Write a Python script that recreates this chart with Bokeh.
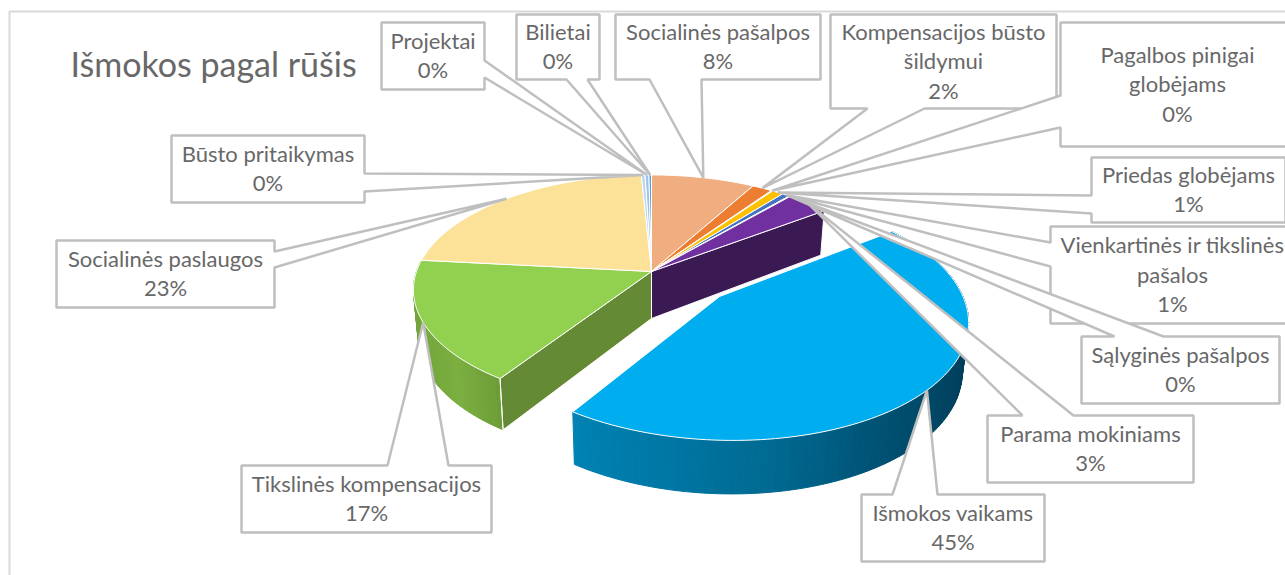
import math
from bokeh.plotting import figure
from bokeh.models import Range1d, ColumnDataSource
from bokeh.core.properties import value
from bokeh.embed import file_html
from bokeh.resources import INLINE

# ---------- data ----------
categories = ["Socialinės pašalpos", "Kompensacijos būsto šildymui", "Pagalbos pinigai globėjams",
              "Priedas globėjams", "Vienkartinės ir tikslinės pašalos", "Sąlyginės pašalpos",
              "Parama mokiniams", "Išmokos vaikams", "Tikslinės kompensacijos",
              "Socialinės paslaugos", "Būsto pritaikymas", "Projektai", "Bilietai"]
shares = [8.2, 1.6, 0.1, 0.9, 0.6, 0.1, 3.4, 44.6, 17.2, 22.6, 0.3, 0.3, 0.2]
title_text = "Išmokos pagal rūšis"

# ---------- styles and layout ----------
fills = ["#F0AE80", "#ED7D31", "#A5A5A5", "#FFC000", "#4472C4", "#70AD47", "#7030A0",
         "#00AEEF", "#92D050", "#FBE298", "#BDD7EE", "#9DC3E6", "#5B9BD5"]
wrapped = {"Kompensacijos būsto šildymui": ["Kompensacijos būsto", "šildymui"],
           "Pagalbos pinigai globėjams": ["Pagalbos pinigai", "globėjams"],
           "Vienkartinės ir tikslinės pašalos": ["Vienkartinės ir tikslinės", "pašalos"]}
# left, top, right, bottom, side of the pointer, two points of its base
callouts = {
    "Socialinės pašalpos": (615, 14, 820, 79, "b", 649, 701),
    "Kompensacijos būsto šildymui": (830, 14, 1056, 108, "b", 867, 924),
    "Pagalbos pinigai globėjams": (1060, 22, 1294, 146, "l", 95, 127),
    "Priedas globėjams": (1091, 157, 1285, 222, "l", 195, 213),
    "Vienkartinės ir tikslinės pašalos": (1050, 226, 1294, 323, "l", 242, 266),
    "Sąlyginės pašalpos": (1081, 336, 1279, 403, "t", 1114, 1163),
    "Parama mokiniams": (987, 415, 1193, 482, "t", 1022, 1073),
    "Išmokos vaikams": (861, 494, 1044, 561, "t", 892, 937),
    "Tikslinės kompensacijos": (241, 465, 491, 532, "t", 387, 448),
    "Socialinės paslaugos": (56, 240, 274, 307, "r", 251, 267),
    "Būsto pritaikymas": (171, 135, 364, 202, "r", 173, 191),
    "Projektai": (381, 22, 484, 89, "r", 60, 77),
    "Bilietai": (516, 14, 599, 79, "b", 566, 587),
}
CX, CY, RX, RY, K = 651.0, 271.0, 235.0, 112.0, 0.16
DEPTH, EXPLODED, OFF_U, OFF_V = 47.0, "Išmokos vaikams", 0.28, 0.215
FONT = "Lato"
TEXT = "#686868"
BORDER = "#BFBFBF"


def top(theta, off=(0.0, 0.0)):
    u, v = math.sin(theta) + off[0], -math.cos(theta) + off[1]
    s = 1.0 / (1.0 - K * v)
    return CX + RX * u * s, CY + RY * v * s, v


def bottom(x, y, v):
    return CX + (x - CX) * 0.98, y + DEPTH / (1.0 - 0.1 * v)


def mix(a, b, t):
    ca = [int(a[i:i + 2], 16) for i in (1, 3, 5)]
    cb = [int(b[i:i + 2], 16) for i in (1, 3, 5)]
    return "#%02x%02x%02x" % tuple(round(p + (q - p) * t) for p, q in zip(ca, cb))


def arc(a0, a1, off):
    n = max(2, int((a1 - a0) / math.radians(1.5)))
    return [top(a0 + (a1 - a0) * i / n, off) for i in range(n + 1)]


total = sum(shares)
angles = {}
cum = 0.0
for c, s_ in zip(categories, shares):
    angles[c] = (cum / total * 2 * math.pi, (cum + s_) / total * 2 * math.pi)
    cum += s_

p = figure(width=1285, height=575, x_range=Range1d(0, 1285), y_range=Range1d(575, 0),
           output_backend="svg", toolbar_location=None, min_border=0,
           background_fill_color="white", border_fill_color="white", outline_line_color=None)
p.axis.visible = False
p.grid.visible = False

# chart frame
p.patch([9, 1300, 1300, 9], [11, 11, 600, 600], fill_color="white",
        line_color="#D9D9D9", line_width=2)


def side_wall(edge_angle, color):
    c = (CX, CY, 0.0)
    e = top(edge_angle)
    bc = bottom(*c)
    be = bottom(*e)
    p.patch([c[0], e[0], be[0], bc[0]], [c[1], e[1], be[1], bc[1]],
            fill_color=color, line_color="white", line_width=1)


def rim(a0, a1, off, stops):
    pts = arc(a0, a1, off)
    xs, ys, cols = [], [], []
    xmin, xmax = min(q[0] for q in pts), max(q[0] for q in pts)
    for q0, q1 in zip(pts[:-1], pts[1:]):
        b0, b1 = bottom(*q0), bottom(*q1)
        xs.append([q0[0], q1[0], b1[0], b0[0]])
        ys.append([q0[1], q1[1], b1[1], b0[1]])
        t = ((q0[0] + q1[0]) / 2 - xmin) / (xmax - xmin)
        if t < 0.5:
            cols.append(mix(stops[0], stops[1], t * 2))
        else:
            cols.append(mix(stops[1], stops[2], t * 2 - 1))
    p.patches(xs="x", ys="y", source=ColumnDataSource(dict(x=xs, y=ys, c=cols)),
              fill_color="c", line_color="c", line_width=1)


def face(cat, off=(0.0, 0.0)):
    a0, a1 = angles[cat]
    pts = arc(a0, a1, off)
    s = 1.0 / (1.0 - K * off[1])
    c = (CX + RX * off[0] * s, CY + RY * off[1] * s)
    p.patch([c[0]] + [q[0] for q in pts], [c[1]] + [q[1] for q in pts],
            fill_color=fills[categories.index(cat)], line_color="white", line_width=1)


# walls and rims of the pie behind the exploded slice
side_wall(angles["Parama mokiniams"][1], "#3B1A54")
green = "Tikslinės kompensacijos"
rim(angles[green][0], angles[green][1], (0.0, 0.0), ("#72A53B", "#7BAF40", "#6C9C38"))
g_edge = top(angles[green][0])
g_bot = bottom(*g_edge)
side_wall(angles[green][0], "#648A35")
p.line([g_edge[0], g_bot[0]], [g_edge[1], g_bot[1]], line_color="white", line_width=1)

for cat in categories:
    if cat != EXPLODED:
        face(cat)

# exploded slice
ea0, ea1 = angles[EXPLODED]
rim(ea0, ea1, (OFF_U, OFF_V), ("#0082B4", "#006A92", "#003F5C"))
face(EXPLODED, (OFF_U, OFF_V))

# callouts and labels
lx, ly, lt = [], [], []
for cat, s_ in zip(categories, shares):
    a0, a1 = angles[cat]
    off = (OFF_U, OFF_V) if cat == EXPLODED else (0.0, 0.0)
    tx, ty, _ = top((a0 + a1) / 2, off)
    L, T, R, B, side, b1, b2 = callouts[cat]
    if side == "t":
        xs = [L, b1, tx, b2, R, R, L]
        ys = [T, T, ty, T, T, B, B]
    elif side == "b":
        xs = [L, R, R, b2, tx, b1, L]
        ys = [T, T, B, B, ty, B, B]
    elif side == "l":
        xs = [L, R, R, L, L, tx, L]
        ys = [T, T, B, B, b2, ty, b1]
    else:
        xs = [L, R, R, tx, R, R, L]
        ys = [T, T, b1, ty, b2, B, B]
    p.patch(xs, ys, fill_color="white", line_color=BORDER, line_width=2.5)
    lines = wrapped.get(cat, [cat]) + [f"{round(s_)}%"]
    yc = (T + B) / 2 - 1
    for i, line in enumerate(lines):
        lx.append((L + R) / 2)
        ly.append(yc + (i - (len(lines) - 1) / 2) * 29.5)
        lt.append(line)

p.text(x="x", y="y", text="t", source=ColumnDataSource(dict(x=lx, y=ly, t=lt)),
       text_font=value(FONT), text_font_size="22px", text_color=TEXT,
       text_align="center", text_baseline="middle")
p.text(x=[70], y=[63], text=[title_text], text_font=value(FONT), text_font_size="34px",
       text_color=TEXT, text_align="left", text_baseline="middle")

open("out.html", "w").write(file_html(p, INLINE))
